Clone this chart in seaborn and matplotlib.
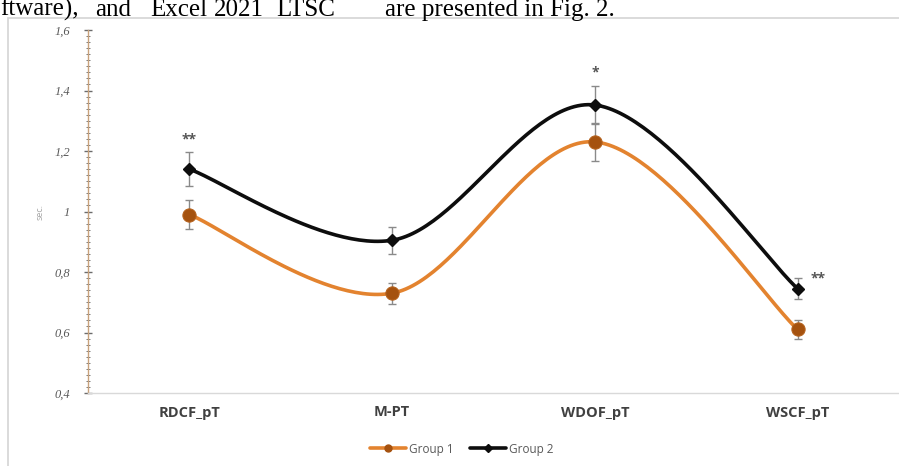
import numpy as np
import pandas as pd
import matplotlib
matplotlib.use("Agg")
import matplotlib.pyplot as plt
from matplotlib.lines import Line2D
from matplotlib.patches import Rectangle
import seaborn as sns

# --- data -------------------------------------------------------------
categories = ["RDCF_pT", "M-PT", "WDOF_pT", "WSCF_pT"]
group1 = [0.99, 0.73, 1.23, 0.61]
group1_err = [0.047, 0.035, 0.062, 0.030]
group2 = [1.14, 0.905, 1.352, 0.745]
group2_err = [0.056, 0.045, 0.064, 0.035]
stars = ["**", "", "*", "**"]
y_ticks = [0.4, 0.6, 0.8, 1.0, 1.2, 1.4, 1.6]
y_tick_labels = ["0,4", "0,6", "0,8", "1", "1,2", "1,4", "1,6"]

ORANGE = "#E3832F"
ORANGE_MARK = "#A5520F"
BLACK = "#0d0d0d"
ERR = "#8a8a8a"


def smooth_curve(xs, ys, n=60):
    """Bezier smoothing through every point (Catmull-Rom style tangents)."""
    pts = np.column_stack([xs, ys]).astype(float)
    padded = np.vstack([pts[0], pts, pts[-1]])
    out = []
    t = np.linspace(0, 1, n)[:, None]
    for i in range(len(pts) - 1):
        p0, p1, p2, p3 = padded[i], padded[i + 1], padded[i + 2], padded[i + 3]
        c1 = p1 + (p2 - p0) / 6.0
        c2 = p2 - (p3 - p1) / 6.0
        seg = ((1 - t) ** 3) * p1 + 3 * ((1 - t) ** 2) * t * c1 \
            + 3 * (1 - t) * t ** 2 * c2 + t ** 3 * p2
        out.append(seg if i == 0 else seg[1:])
    seg = np.vstack(out)
    return seg[:, 0], seg[:, 1]


sns.set_theme(style="white")
plt.rcParams["font.family"] = ["Open Sans", "DejaVu Sans"]

W, H = 899, 466
fig = plt.figure(figsize=(W / 100, H / 100), dpi=100)
fig.patch.set_facecolor("white")

# running (justified) page text above the chart
page_words = [("ftware),", 0), ("and", 95), ("Excel", 150), ("2021", 214),
              ("LTSC", 276), ("are presented in Fig. 2.", 385)]
for word, px in page_words:
    fig.text(px / W, 1 - 16 / H, word, family="Liberation Serif", fontsize=18,
             color="black", ha="left", va="baseline")

# chart frame
fig.add_artist(Rectangle((8 / W, -0.01), 1.0, 1 - 18 / H + 0.01, transform=fig.transFigure,
                         facecolor="white", edgecolor="#d4d4d4", linewidth=1.2, zorder=2))

ax = fig.add_axes([88 / W, (H - 393) / H, 811 / W, 363 / H], zorder=3)
ax.set_facecolor("none")

xpos = np.arange(len(categories))

rows = []
for name, vals in [("Group 1", group1), ("Group 2", group2)]:
    sx, sy = smooth_curve(xpos, vals)
    rows.append(pd.DataFrame({"x": sx, "y": sy, "group": name}))
curves = pd.concat(rows, ignore_index=True)

sns.lineplot(data=curves, x="x", y="y", hue="group", units="group", estimator=None, sort=False,
             palette={"Group 1": ORANGE, "Group 2": BLACK}, linewidth=2.6, legend=False, ax=ax)

ax.errorbar(xpos, group1, yerr=group1_err, fmt="none", ecolor=ERR, elinewidth=1.0,
            capsize=3, capthick=1.0, zorder=4)
ax.errorbar(xpos, group2, yerr=group2_err, fmt="none", ecolor=ERR, elinewidth=1.0,
            capsize=3, capthick=1.0, zorder=4)

ax.plot(xpos, group1, linestyle="none", marker="o", markersize=9.5,
        markerfacecolor=ORANGE_MARK, markeredgecolor="#b4611c", markeredgewidth=0.8, zorder=5)
ax.plot(xpos, group2, linestyle="none", marker="D", markersize=6.5,
        markerfacecolor=BLACK, markeredgecolor=BLACK, zorder=5)

# significance marks
for i, s in enumerate(stars):
    if not s:
        continue
    if i == len(stars) - 1:
        ax.text(xpos[i] + 0.065, group2[i] + 0.01, s, ha="left", va="bottom",
                fontsize=10, color="#555555", fontweight="bold")
    else:
        ax.text(xpos[i], group2[i] + group2_err[i] + 0.02, s, ha="center", va="bottom",
                fontsize=10, color="#555555", fontweight="bold")

ax.set_xlim(-0.5, 3.5)
ax.set_ylim(0.4, 1.6)
ax.set_xticks(xpos)
ax.set_xticklabels(categories, fontsize=10.5, fontweight="bold", color="#404040")
ax.set_yticks(y_ticks)
ax.set_yticklabels(y_tick_labels, fontsize=9, color="#595959", family="Liberation Serif",
                   style="italic")
ax.set_yticks(np.arange(0.4, 1.6001, 0.02), minor=True)
ax.tick_params(axis="x", length=0, pad=9)
ax.tick_params(axis="y", which="major", direction="inout", length=6, width=1.0,
               color="#6b6b6b", pad=10, left=True)
ax.tick_params(axis="y", which="minor", direction="inout", length=3.5, width=0.7,
               color="#7a7a7a", left=True)
ax.set_xlabel("")
ax.set_ylabel("sec.", fontsize=6.5, color="#a6a6a6", labelpad=7)

for side in ["top", "right"]:
    ax.spines[side].set_visible(False)
ax.spines["left"].set_color("#c8a27c")
ax.spines["left"].set_linewidth(1.0)
ax.spines["bottom"].set_color("#d9d9d9")
ax.spines["bottom"].set_linewidth(1.0)

handles = [
    Line2D([], [], color=ORANGE, linewidth=2.6, marker="o", markersize=5,
           markerfacecolor=ORANGE_MARK, markeredgecolor=ORANGE_MARK),
    Line2D([], [], color=BLACK, linewidth=2.6, marker="D", markersize=4,
           markerfacecolor=BLACK),
]
fig.legend(handles, ["Group 1", "Group 2"], loc="center", bbox_to_anchor=(462 / W, 1 - 449 / H),
           ncol=2, frameon=False, fontsize=8.5, labelcolor="#595959", handlelength=3.0,
           columnspacing=1.4, handletextpad=0.3)

fig.savefig("out.png", dpi=100, facecolor="white")
